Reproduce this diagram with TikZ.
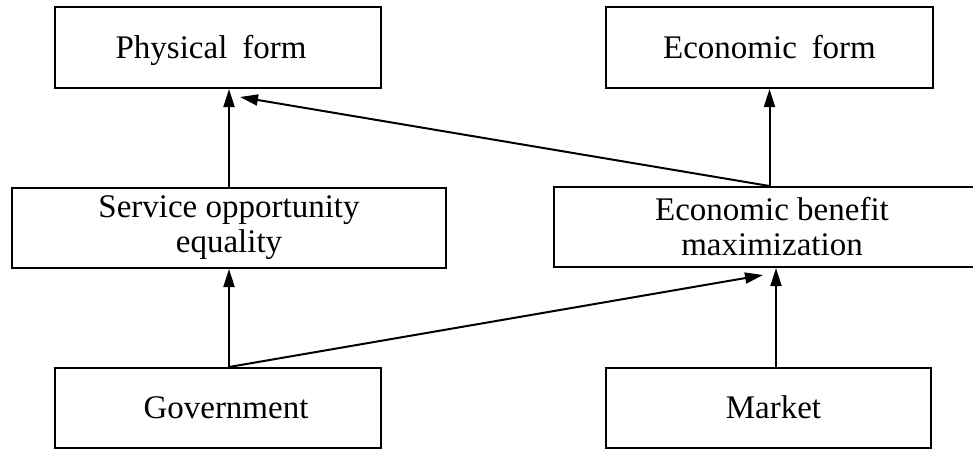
\documentclass[tikz,border=0pt]{standalone}
\usepackage{fontspec}
\setmainfont{Liberation Serif}
\usetikzlibrary{arrows.meta,calc}
\begin{document}
\begin{tikzpicture}[x=1pt,y=-1pt,
  box/.style={draw,line width=2pt,rectangle,inner sep=0pt,align=center,
    font=\fontsize{33}{35}\selectfont},
  one/.style={text height=21pt,text depth=0pt},
  arr/.style={line width=2pt,-{Triangle[length=18pt,width=11pt]}}]
\useasboundingbox (0,0) rectangle (973,451);
\node[box,one,minimum width=326pt,minimum height=81pt] (phys) at (218,47.5) {\hspace{-14pt}Physical\hspace{0.45em}form};
\node[box,one,minimum width=327pt,minimum height=81pt] (ef) at (769.5,47.5) {Economic\hspace{0.45em}form};
\node[box,minimum width=434pt,minimum height=80pt] (svc) at (229,228) {Service opportunity\\equality};
\node[box,minimum width=436pt,minimum height=80pt] (eb) at (772,227) {Economic benefit\\maximization};
\node[box,one,minimum width=326pt,minimum height=80pt] (gov) at (218,408) {\hspace{16pt}Government};
\node[box,one,minimum width=325pt,minimum height=80pt] (mkt) at (768.5,408) {\hspace{10pt}Market};
\coordinate (pin) at (svc.north |- phys.south);
\coordinate (min) at ([xshift=7.5pt]mkt.north |- eb.south);
\draw[arr] (svc.north) -- (pin);
\draw[arr] (gov.north -| svc.north) -- (svc.south);
\draw[arr] (eb.north -| ef.south) -- (ef.south);
\draw[arr] ([xshift=7.5pt]mkt.north) -- (min);
\draw[arr] (eb.north -| ef.south) -- ($(pin)+(11,8)$);
\draw[arr] (gov.north -| svc.north) -- ($(min)+(-13,7)$);
\end{tikzpicture}
\end{document}
